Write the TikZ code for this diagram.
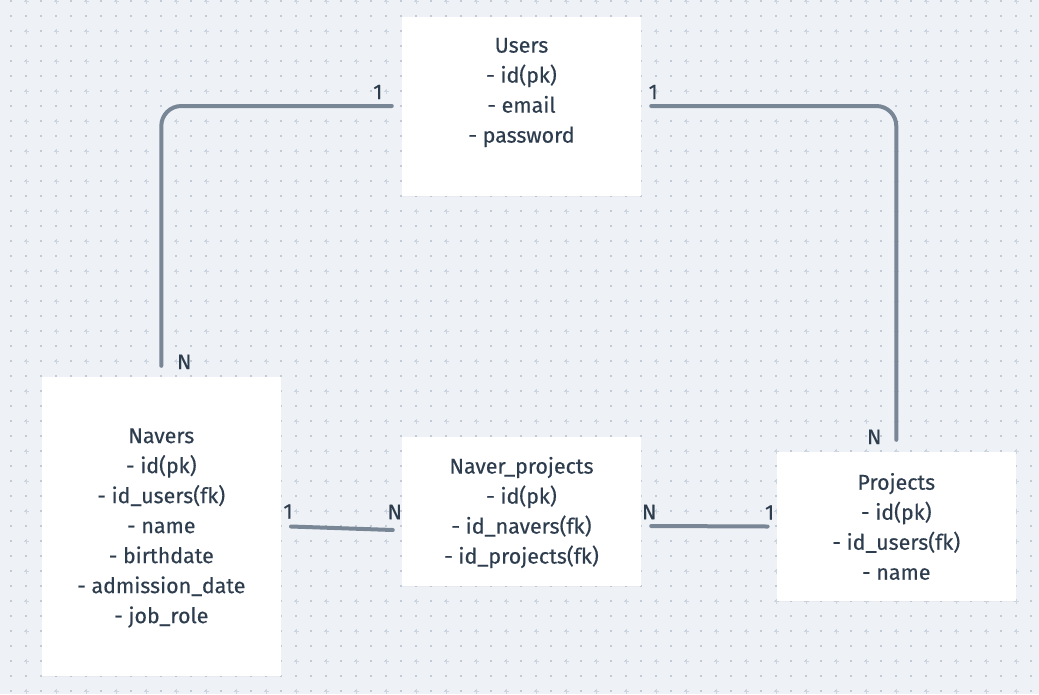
\documentclass[tikz,border=0pt]{standalone}
\usepackage{fontspec}
\setmainfont{Fira Sans}
\newfontfamily\erfont[FakeBold=0.35]{Fira Sans}
\usetikzlibrary{calc,shadows}
\definecolor{bgc}{HTML}{EEF2F6}
\definecolor{dotc}{HTML}{C2CBD6}
\definecolor{plusc}{HTML}{CCD5E0}
\definecolor{linec}{RGB}{120,134,150}
\definecolor{txtc}{HTML}{2E3D4E}
\tikzset{
  entity/.style={draw=none, fill=white, inner sep=0pt, align=center, text=txtc,
    font=\erfont\fontsize{21.4}{30}\selectfont,
    drop shadow={opacity=0.06, shadow xshift=0pt, shadow yshift=-1pt}},
  etext/.style={text=txtc, font=\erfont\fontsize{21.4}{30}\selectfont, align=center, inner sep=0pt},
  conn/.style={draw=linec, line width=4pt, line cap=round, rounded corners=20pt},
  card/.style={text=txtc, font=\erfont\fontsize{21}{24}\selectfont, inner sep=0pt}
}
\begin{document}
\begin{tikzpicture}[x=1pt,y=-1pt]
\fill[bgc] (0,0) rectangle (1039,694);
\useasboundingbox (0,0) rectangle (1039,694);
\foreach \y in {1,16,...,694}{
  \foreach \x in {11,26,...,1039}{
    \fill[dotc] (\x-0.6,\y-0.6) rectangle (\x+0.6,\y+0.6);
  }
}
\foreach \y in {1,31,...,694}{
  \foreach \x in {26,56,...,1039}{
    \draw[plusc, line width=0.9pt] (\x-2.5,\y) -- (\x+2.5,\y) (\x,\y-2.5) -- (\x,\y+2.5);
  }
}
% entities
\node[entity, minimum width=239pt, minimum height=179pt] (users) at (521.5,106.5) {};
\node[entity, minimum width=239pt, minimum height=299pt] (navers) at (161.3,526.5) {};
\node[entity, minimum width=239pt, minimum height=149pt] (np) at (521.5,511.5) {};
\node[entity, minimum width=239pt, minimum height=149pt] (projects) at (896.3,526.5) {};
\node[etext] (userstxt) at ($(users.center)+(0,-14)$) {Users\\- id(pk)\\- email\\- password};
\node[etext] (naverstxt) at ($(navers.center)+(0,1.5)$) {Navers\\- id(pk)\\- id\_users(fk)\\- name\\- birthdate\\- admission\_date\\- job\_role};
\node[etext] (nptxt) at ($(np.center)+(0,1)$) {Naver\_projects\\- id(pk)\\- id\_navers(fk)\\- id\_projects(fk)};
\node[etext] (projtxt) at ($(projects.center)+(0,0)$) {Projects\\- id(pk)\\- id\_users(fk)\\- name};
% connectors
\coordinate (u1) at ($(users.west)+(-10,-0.5)$);
\coordinate (n1) at ($(navers.north)+(0,-11)$);
\draw[conn] (u1) -| (n1);
\coordinate (u2) at ($(users.east)+(10,-0.5)$);
\coordinate (p1) at ($(projects.north)+(0,-12)$);
\draw[conn] (u2) -| (p1);
\coordinate (n2) at ($(navers.east)+(10,0)$);
\coordinate (np1) at ($(np.west)+(-9,18.5)$);
\draw[conn] (n2) -- (np1);
\coordinate (np2) at ($(np.east)+(10,14.5)$);
\coordinate (p2) at ($(projects.west)+(-9,0)$);
\draw[conn] (np2) -- (p2);
% cardinalities
\node[card] (c1) at ($(u1)+(-14,-14)$) {1};
\node[card] (c2) at ($(n1)+(23,-4)$) {N};
\node[card] (c3) at ($(u2)+(2,-14)$) {1};
\node[card] (c4) at ($(p1)+(-22,-3)$) {N};
\node[card] (c5) at ($(n2)+(-3,-15)$) {1};
\node[card] (c6) at ($(np1)+(2,-18)$) {N};
\node[card] (c7) at ($(np2)+(-2,-14)$) {N};
\node[card] (c8) at ($(p2)+(2,-14)$) {1};
\end{tikzpicture}
\end{document}
